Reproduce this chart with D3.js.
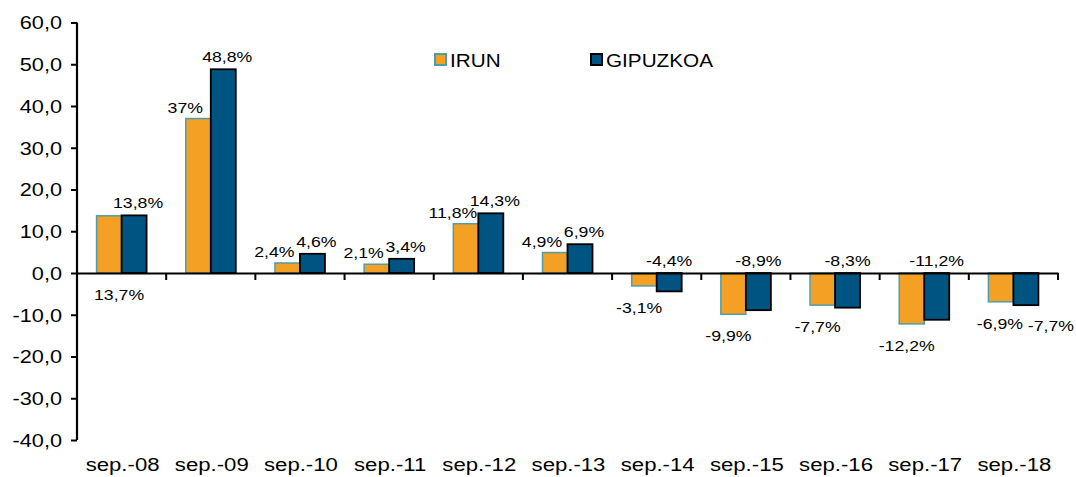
<!DOCTYPE html>
<html>
<head>
<meta charset="utf-8">
<script src="https://cdn.jsdelivr.net/npm/d3@7"></script>
<style>
  body { margin: 0; background: #fff; }
  text { font-family: "Liberation Sans", Arial, sans-serif; fill: #000; }
</style>
</head>
<body>
<script>
// data
var categories = ["sep.-08","sep.-09","sep.-10","sep.-11","sep.-12","sep.-13","sep.-14","sep.-15","sep.-16","sep.-17","sep.-18"];
var irun = [13.7, 37, 2.4, 2.1, 11.8, 4.9, -3.1, -9.9, -7.7, -12.2, -6.9];
var gipuzkoa = [13.8, 48.8, 4.6, 3.4, 14.3, 6.9, -4.4, -8.9, -8.3, -11.2, -7.7];
var irunLabels = ["13,7%","37%","2,4%","2,1%","11,8%","4,9%","-3,1%","-9,9%","-7,7%","-12,2%","-6,9%"];
var gipuzkoaLabels = ["13,8%","48,8%","4,6%","3,4%","14,3%","6,9%","-4,4%","-8,9%","-8,3%","-11,2%","-7,7%"];
var yTicks = [-40,-30,-20,-10,0,10,20,30,40,50,60];
var seriesNames = ["IRUN","GIPUZKOA"];

var W = 1076, H = 477;
var svg = d3.select("body").append("svg").attr("width", W).attr("height", H);

var x = d3.scaleBand().domain(categories).range([77, 1058]);
var y = d3.scaleLinear().domain([-40, 60]).range([440, 22.5]);
var barW = 25;

var orange = "#F4A024", orangeStroke = "#4E9EAA";
var blue = "#005482", blueStroke = "#000";

// the original text is drawn wide, so stretch glyphs horizontally
function stretch(sel, r) {
  sel.each(function(){
    var len = this.getComputedTextLength();
    d3.select(this).attr("textLength", len * r).attr("lengthAdjust", "spacingAndGlyphs");
  });
}

// y axis
var yAxis = svg.append("g").attr("transform", "translate(77,0)")
  .call(d3.axisLeft(y).tickValues(yTicks).tickSize(6).tickPadding(9)
    .tickFormat(function(d){ return d3.format(".1f")(d).replace(".", ",").replace("−","-"); }));
yAxis.select(".domain").attr("stroke-width", 2.2).attr("d", "M0," + y(60) + "V" + y(-40));
yAxis.selectAll(".tick line").attr("stroke-width", 2);
yAxis.selectAll("text").style("font-size", "17.5px").style("font-family", "Liberation Sans, Arial, sans-serif")
  .attr("dy", "0.36em").call(stretch, 1.24);

// bars
var g = svg.append("g");
g.selectAll(".b1").data(irun).enter().append("rect")
  .attr("x", function(d,i){ return x(categories[i]) + x.bandwidth()/2 - barW; })
  .attr("y", function(d){ return y(Math.max(0,d)); })
  .attr("width", barW)
  .attr("height", function(d){ return Math.abs(y(d) - y(0)); })
  .attr("fill", orange).attr("stroke", orangeStroke).attr("stroke-width", 1.5);
g.selectAll(".b2").data(gipuzkoa).enter().append("rect")
  .attr("x", function(d,i){ return x(categories[i]) + x.bandwidth()/2; })
  .attr("y", function(d){ return y(Math.max(0,d)); })
  .attr("width", barW)
  .attr("height", function(d){ return Math.abs(y(d) - y(0)); })
  .attr("fill", blue).attr("stroke", blueStroke).attr("stroke-width", 1.8);

// x axis at zero
var xAxis = svg.append("g").attr("transform", "translate(0," + y(0) + ")")
  .call(d3.axisBottom(x).tickSize(0).tickFormat(""));
xAxis.select(".domain").attr("stroke-width", 2.2);
var bounds = categories.map(function(c){ return x(c); }).concat([x.range()[1]]);
xAxis.selectAll(".bt").data(bounds.slice(1)).enter().append("line")
  .attr("x1", function(d){ return d; }).attr("x2", function(d){ return d; })
  .attr("y1", 0).attr("y2", 7).attr("stroke", "#000").attr("stroke-width", 2);

// category labels
svg.selectAll(".cat").data(categories).enter().append("text")
  .attr("x", function(d){ return x(d) + x.bandwidth()/2 + 1; })
  .attr("y", 471)
  .attr("text-anchor", "middle")
  .style("font-size", "18px")
  .text(function(d){ return d; })
  .call(stretch, 1.23);

// value labels
var last = categories.length - 1;
svg.selectAll(".l1").data(irun).enter().append("text")
  .attr("text-anchor", "middle").style("font-size", "15.5px")
  .attr("x", function(d,i){
    var cx = x(categories[i]) + x.bandwidth()/2 - barW/2;
    if (i === 0) return cx + 10;
    if (i === last) return cx - 1;
    return d >= 0 ? cx - 13 : cx - 5;
  })
  .attr("y", function(d,i){
    if (i === 0) return y(0) + 27;
    return d >= 0 ? y(d) - 6 : y(d) + 27;
  })
  .text(function(d,i){ return irunLabels[i]; })
  .call(stretch, 1.14);

svg.selectAll(".l2").data(gipuzkoa).enter().append("text")
  .attr("text-anchor", "middle").style("font-size", "15.5px")
  .attr("x", function(d,i){
    var cx = x(categories[i]) + x.bandwidth()/2 + barW/2;
    if (i === last) return cx + 25;
    return d >= 0 ? cx + 4 : cx;
  })
  .attr("y", function(d,i){
    if (i === last) return y(irun[i]) + 29;
    return d >= 0 ? y(d) - 7 : y(0) - 7;
  })
  .text(function(d,i){ return gipuzkoaLabels[i]; })
  .call(stretch, 1.14);

// legend
var leg = svg.append("g");
[[435, orange, orangeStroke], [591, blue, blueStroke]].forEach(function(p, i){
  leg.append("rect").attr("x", p[0]).attr("y", 54).attr("width", 11).attr("height", 11)
    .attr("fill", p[1]).attr("stroke", p[2]).attr("stroke-width", 2);
  leg.append("text").attr("x", p[0] + 15).attr("y", 66.5).style("font-size", "18px")
    .text(seriesNames[i]).call(stretch, 1.15);
});
</script>
</body>
</html>
